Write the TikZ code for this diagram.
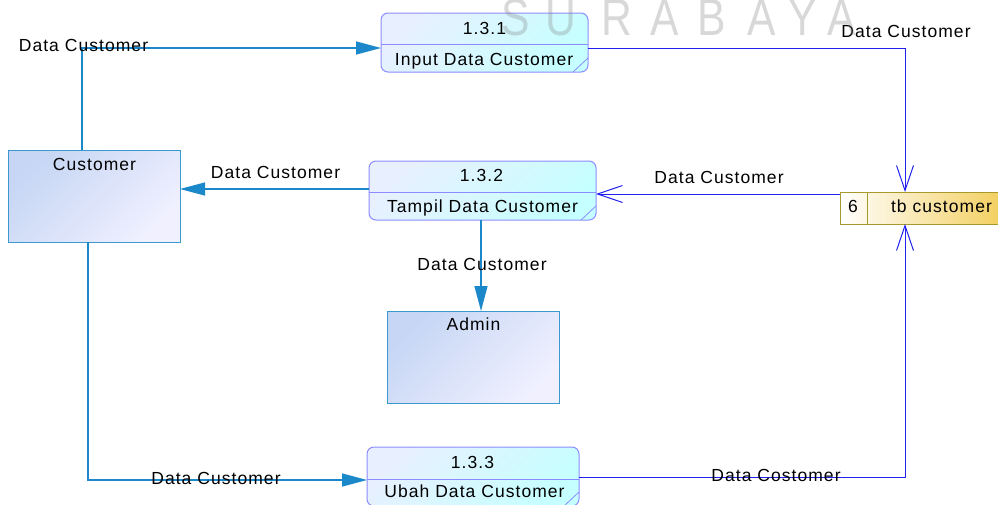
\documentclass[tikz,border=0pt]{standalone}
\usepackage{fontspec}
\setmainfont{Liberation Sans}[LetterSpace=6]
\newfontfamily\wmfont{Liberation Sans}
\usetikzlibrary{arrows.meta}
\definecolor{flowc}{HTML}{1A88C9}
\definecolor{flows}{HTML}{2020F0}
\definecolor{procborder}{HTML}{8C8CFF}
\definecolor{proctl}{HTML}{E8F0FF}
\definecolor{procbr}{HTML}{C6FFFF}
\definecolor{entborder}{HTML}{3A9AD0}
\definecolor{enttl}{HTML}{C6D6F4}
\definecolor{entbr}{HTML}{F0F0FF}
\definecolor{stborder}{HTML}{A89A2A}
\definecolor{stright}{HTML}{F2CC55}
\definecolor{wmgray}{HTML}{808080}
\begin{document}
\begin{tikzpicture}[x=1pt,y=-1pt,
  every node/.style={inner sep=0pt,outer sep=0pt},
  txt/.style={font=\fontsize{17.5}{20}\selectfont,text height=12.6pt,text depth=0pt},
  wm/.style={font=\wmfont\fontsize{52}{52}\selectfont,text=wmgray,text opacity=0.3,anchor=base},
  procbox/.style={draw=procborder,line width=1pt,rounded corners=7pt,
    top color=proctl,bottom color=procbr,shading angle=45},
  entbox/.style={draw=entborder,line width=1pt,
    top color=enttl,bottom color=entbr,shading angle=45},
  storebox/.style={draw=stborder,line width=1pt,left color=white,right color=stright},
  flowcust/.style={draw=flowc,line width=1.3pt,-{Triangle[length=25pt,width=13pt]}},
  flowstore/.style={draw=flows,line width=1pt,-{Straight Barb[length=25pt,width=17pt]}}
]
\path[use as bounding box] (0,0) rectangle (998,504);
\clip (0,0) rectangle (998,504);
\fill[white] (0,0) rectangle (998,504);

% processes
\node[procbox,minimum width=207pt,minimum height=59pt] (p1) at (484.5,42.5) {};
\draw[procborder,line width=1pt] ([yshift=-1.5pt]p1.west) -- ([yshift=-1.5pt]p1.east);
\draw[procborder,line width=0.8pt] ([xshift=-15pt]p1.south east) -- ([yshift=14pt]p1.south east);
\node[txt] (p1n) at (484.5,28.5) {1.3.1};
\node[txt] (p1t) at (484,59) {Input Data Customer};

\node[procbox,minimum width=227pt,minimum height=59pt] (p2) at (482.5,190.5) {};
\draw[procborder,line width=1pt] ([yshift=-1.5pt]p2.west) -- ([yshift=-1.5pt]p2.east);
\draw[procborder,line width=0.8pt] ([xshift=-15pt]p2.south east) -- ([yshift=14pt]p2.south east);
\node[txt] (p2n) at (481.5,175) {1.3.2};
\node[txt] (p2t) at (482.5,206) {Tampil Data Customer};

\node[procbox,minimum width=212pt,minimum height=59pt] (p3) at (473,476.5) {};
\draw[procborder,line width=1pt] ([yshift=-2.5pt]p3.west) -- ([yshift=-2.5pt]p3.east);
\draw[procborder,line width=0.8pt] ([xshift=-15pt]p3.south east) -- ([yshift=14pt]p3.south east);
\node[txt] (p3n) at (472.5,462) {1.3.3};
\node[txt] (p3t) at (474.5,491.5) {Ubah Data Customer};

% entities
\node[entbox,minimum width=172pt,minimum height=92pt] (cust) at (94,196) {};
\node[txt] (custt) at (94.5,164) {Customer};
\node[entbox,minimum width=172pt,minimum height=92pt] (admin) at (473,357) {};
\node[txt] (admint) at (473.5,324.5) {Admin};

% data store
\node[storebox,minimum width=172pt,minimum height=32pt] (store) at (926,208) {};
\draw[stborder,line width=1pt] ([xshift=27pt]store.north west) -- ([xshift=27pt]store.south west);
\node[txt] (storen) at (853,206.5) {6};
\node[txt] (storet) at (941.5,206.5) {tb customer};

% flows
\draw[flowcust] ([xshift=-12pt]cust.north) |- ([yshift=-5.5pt]p1.west);
\draw[flowstore] ([yshift=-5.5pt]p1.east) -| ([xshift=65pt]store.north west);
\draw[flowstore] ([yshift=14pt]store.west) -- ([yshift=-3.5pt]p2.east);
\draw[flowcust] ([yshift=1.5pt]p2.west) -- ([yshift=7pt]cust.east);
\draw[flowcust] ([xshift=-1.5pt]p2.south) -- ([xshift=-1.5pt]p2.south |- admin.north);
\draw[flowcust] ([xshift=-6pt]cust.south) |- ([yshift=-3.5pt]p3.west);
\draw[flowstore] ([yshift=-0.5pt]p3.east) -| ([xshift=65pt]store.south west);

% flow labels
\node[txt] (l1) at (83.5,45.5) {Data Customer};
\node[txt] (l2) at (906,31) {Data Customer};
\node[txt] (l3) at (275.5,172) {Data Customer};
\node[txt] (l4) at (719,177) {Data Customer};
\node[txt] (l5) at (482,264) {Data Customer};
\node[txt] (l6) at (216,478) {Data Customer};
\node[txt] (l7) at (776,475) {Data Costomer};

% watermark (on top, translucent)
\node[wm] (w1) at (516,35) {\scalebox{0.82}[1]{S}};
\node[wm] (w2) at (561,35) {\scalebox{0.82}[1]{U}};
\node[wm] (w3) at (617,35) {\scalebox{0.82}[1]{R}};
\node[wm] (w4) at (665,35) {\scalebox{0.82}[1]{A}};
\node[wm] (w5) at (712,35) {\scalebox{0.82}[1]{B}};
\node[wm] (w6) at (762,35) {\scalebox{0.82}[1]{A}};
\node[wm] (w7) at (803,35) {\scalebox{0.82}[1]{Y}};
\node[wm] (w8) at (842,35) {\scalebox{0.82}[1]{A}};
\end{tikzpicture}
\end{document}
